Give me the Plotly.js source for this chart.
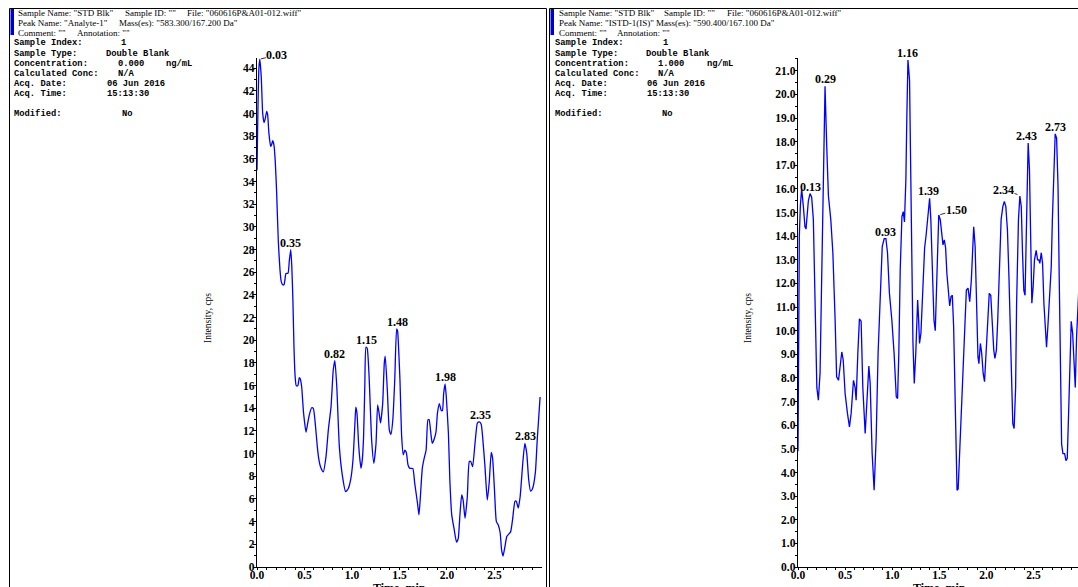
<!DOCTYPE html>
<html><head><meta charset="utf-8">
<script src="https://cdn.plot.ly/plotly-3.0.1.min.js"></script>
<style>html,body{margin:0;padding:0;overflow:hidden;background:#fff}#chart{width:1078px;height:587px}</style>
</head><body><div id="chart"></div>
<script>
// ---- Analyte-1 (left panel) ----
const analyteTime=[0.000,0.010,0.020,0.030,0.045,0.060,0.074,0.088,0.102,0.112,0.125,0.144,0.155,0.165,0.179,0.192,0.207,0.224,0.242,0.255,0.270,0.284,0.295,0.305,0.326,0.340,0.355,0.366,0.378,0.389,0.400,0.413,0.430,0.445,0.455,0.470,0.490,0.516,0.532,0.550,0.575,0.593,0.615,0.635,0.653,0.670,0.698,0.726,0.751,0.779,0.803,0.820,0.840,0.867,0.900,0.933,0.960,0.986,1.010,1.030,1.040,1.052,1.070,1.084,1.095,1.110,1.122,1.135,1.147,1.160,1.180,1.207,1.230,1.253,1.270,1.285,1.300,1.323,1.340,1.350,1.372,1.393,1.410,1.430,1.450,1.470,1.480,1.495,1.505,1.523,1.540,1.556,1.572,1.590,1.610,1.640,1.660,1.690,1.705,1.720,1.740,1.760,1.780,1.800,1.812,1.830,1.845,1.862,1.884,1.900,1.920,1.940,1.952,1.965,1.980,1.992,2.015,2.030,2.050,2.074,2.100,2.118,2.137,2.155,2.170,2.190,2.214,2.235,2.250,2.270,2.295,2.320,2.340,2.360,2.375,2.400,2.424,2.445,2.466,2.480,2.500,2.520,2.540,2.560,2.575,2.590,2.610,2.630,2.650,2.670,2.690,2.716,2.730,2.750,2.770,2.800,2.820,2.840,2.860,2.880,2.900,2.930,2.950,2.980];
const analyteIntensity=[35.0,40.5,44.0,44.8,43.2,40.0,39.2,39.6,40.2,39.9,38.3,37.1,37.3,37.6,37.2,35.8,33.0,28.8,26.2,25.2,24.9,24.9,25.4,25.9,25.9,27.0,28.0,26.6,23.5,19.5,17.0,16.0,16.0,16.7,16.6,15.9,13.6,11.9,12.6,13.4,14.05,14.0,12.5,10.6,9.4,8.8,8.4,9.7,12.1,14.1,17.4,18.2,15.9,10.6,8.0,6.65,6.9,7.7,9.4,12.5,14.1,13.6,10.8,9.4,8.7,9.6,11.5,16.0,19.4,19.3,16.8,11.2,9.15,10.9,14.3,13.6,12.7,14.4,17.98,18.6,15.6,12.1,11.7,13.0,16.5,21.0,20.8,18.5,16.5,11.5,9.9,10.3,10.1,9.0,8.7,8.7,7.4,5.6,4.6,6.2,8.7,9.6,10.3,13.0,13.0,11.8,10.9,11.2,11.9,13.6,14.4,13.8,13.8,15.3,16.15,15.1,11.8,7.7,4.6,3.4,2.2,2.5,4.7,6.35,5.9,4.3,6.2,9.3,9.3,8.85,10.9,12.7,12.8,12.6,11.5,8.85,5.9,7.5,10.1,9.6,6.8,4.0,3.7,3.0,1.5,0.97,1.8,2.7,2.9,3.1,4.15,5.8,5.8,5.2,6.2,9.4,10.9,10.0,7.7,6.7,6.9,8.3,11.2,15.0];
const analytePeakLabels=["0.03","0.35","0.82","1.15","1.48","1.98","2.35","2.83"];
const analytePeakHeights=[44.8,28.0,18.2,19.4,21.0,16.15,12.8,10.9];

// ---- ISTD-1(IS) (right panel) ----
const istdTime=[0.000,0.007,0.014,0.025,0.039,0.057,0.074,0.085,0.110,0.128,0.145,0.163,0.180,0.200,0.216,0.234,0.250,0.270,0.287,0.305,0.323,0.348,0.370,0.394,0.410,0.430,0.447,0.465,0.480,0.500,0.525,0.546,0.564,0.589,0.606,0.617,0.635,0.652,0.670,0.688,0.713,0.730,0.752,0.766,0.787,0.808,0.830,0.850,0.872,0.894,0.915,0.933,0.950,0.970,0.996,1.020,1.043,1.057,1.070,1.085,1.103,1.117,1.130,1.145,1.155,1.167,1.184,1.198,1.210,1.220,1.234,1.250,1.270,1.280,1.290,1.305,1.326,1.344,1.360,1.376,1.397,1.410,1.430,1.443,1.457,1.475,1.494,1.510,1.528,1.539,1.553,1.567,1.580,1.600,1.610,1.624,1.638,1.652,1.670,1.688,1.700,1.723,1.745,1.766,1.787,1.805,1.823,1.840,1.855,1.865,1.880,1.894,1.910,1.920,1.936,1.950,1.965,1.980,1.996,2.014,2.030,2.046,2.060,2.078,2.090,2.106,2.120,2.138,2.156,2.174,2.190,2.206,2.223,2.240,2.255,2.270,2.280,2.294,2.310,2.320,2.340,2.355,2.370,2.383,2.397,2.410,2.426,2.443,2.457,2.468,2.482,2.496,2.510,2.528,2.543,2.557,2.567,2.582,2.596,2.610,2.628,2.638,2.652,2.670,2.688,2.700,2.716,2.730,2.745,2.760,2.773,2.787,2.798,2.812,2.830,2.844,2.858,2.870,2.886,2.900,2.915,2.930,2.943,2.957,2.980];
const istdIntensity=[4.9,10.0,14.0,15.3,16.0,15.25,14.4,14.3,15.5,15.8,15.65,14.7,11.4,7.6,7.06,8.2,11.9,17.5,20.34,17.8,15.7,14.7,13.3,10.45,8.05,7.9,8.6,9.1,8.76,7.34,6.5,5.93,6.5,7.9,7.6,7.06,9.04,10.5,10.4,7.6,5.65,6.8,8.5,7.77,4.8,3.25,5.5,9.04,11.6,13.56,13.9,13.9,13.3,11.6,10.45,9.04,7.2,7.13,9.04,12.57,14.83,15.04,14.6,16.4,19.0,21.45,20.6,17.1,12.6,9.5,7.77,9.04,11.3,10.5,9.46,9.9,11.86,13.5,14.05,14.7,15.6,14.7,12.1,10.45,10.0,12.57,14.9,14.7,13.84,13.63,13.84,13.5,12.43,11.44,11.05,11.44,11.5,10.17,6.92,3.25,3.3,5.37,7.34,9.46,11.72,11.8,11.23,12.15,13.56,14.4,13.56,11.0,8.9,8.6,9.46,9.04,8.2,7.84,9.04,10.7,11.58,11.5,10.45,9.18,8.83,9.18,10.45,12.85,14.7,15.25,15.47,15.25,14.27,12.15,9.75,7.6,6.07,5.86,7.6,11.1,14.7,15.7,15.25,13.3,11.7,11.5,14.7,17.94,16.8,13.56,11.16,11.86,13.0,13.4,13.0,13.0,12.85,13.3,12.85,11.16,9.9,9.3,10.17,11.3,12.7,14.7,16.95,18.33,18.15,16.1,12.15,8.33,5.2,4.8,4.8,4.5,4.6,6.2,9.04,10.4,9.9,8.33,7.6,9.75,11.7];
const istdPeakLabels=["0.13","0.29","0.93","1.16","1.39","1.50","2.34","2.43","2.73"];
const istdPeakHeights=[15.8,20.34,13.9,21.45,15.6,14.9,15.75,17.94,18.33];

// ---- header texts ----
const analyteHeader=[['Sample Name: "STD Blk"','Sample ID: ""','File: "060616P&A01-012.wiff"'],['Peak Name: "Analyte-1"','Mass(es): "583.300/167.200 Da"'],['Comment: ""','Annotation: ""']];
const istdHeader=[['Sample Name: "STD Blk"','Sample ID: ""','File: "060616P&A01-012.wiff"'],['Peak Name: "ISTD-1(IS)"','Mass(es): "590.400/167.100 Da"'],['Comment: ""','Annotation: ""']];
const infoLabels=["Sample Index:","Sample Type:","Concentration:","Calculated Conc:","Acq. Date:","Acq. Time:","Modified:"];
const analyteInfoValues=["1","Double Blank","0.000","N/A","06 Jun 2016","15:13:30","No"];
const istdInfoValues=["1","Double Blank","1.000","N/A","06 Jun 2016","15:13:30","No"];
const concUnit="ng/mL";
const yTitle="Intensity, cps";
const xTitle="Time, min";

const W=1078,H=587;
const fx=p=>p/W, fy=p=>1-p/H;
const ann=[];
function txt(t,x,y,opt){ann.push(Object.assign({text:t,xref:'paper',yref:'paper',x:fx(x),y:fy(y),xanchor:'left',yanchor:'middle',showarrow:false,borderpad:0,font:{family:'Liberation Serif, Times New Roman, serif',size:9,color:'#000'}},opt||{}));}

// header lines
const hdrY=[12.7,23.3,33.3];
const lHdrX=[[17,124,186],[17,118],[17,76]];
const rHdrX=[[558,663,726],[558,655],[558,616]];
analyteHeader.forEach((row,i)=>row.forEach((t,j)=>txt(t,lHdrX[i][j],hdrY[i])));
istdHeader.forEach((row,i)=>row.forEach((t,j)=>txt(t,rHdrX[i][j],hdrY[i])));
// info block
const infoY=[43.3,54,64.3,74,84.3,94.3,114.3];
const lValX=[120,104.5,117,117,105.5,105.5,121];
const rValX=[662,645,657,657,645.5,645.5,661];
const mono={family:'Liberation Mono, Courier New, monospace',size:8.8,color:'#000',weight:'bold'};
infoLabels.forEach((t,i)=>{txt(t,12.8,infoY[i],{font:mono});txt(t,553.8,infoY[i],{font:mono});});
analyteInfoValues.forEach((t,i)=>txt(t,lValX[i],infoY[i],{font:mono}));
istdInfoValues.forEach((t,i)=>txt(t,rValX[i],infoY[i],{font:mono}));
txt(concUnit,165.2,infoY[2],{font:mono});
txt(concUnit,705.5,infoY[2],{font:mono});
// axis titles
txt(yTitle,208,318,{xanchor:'center',textangle:-90,font:{family:'Liberation Serif, serif',size:9.5,color:'#000'}});
txt(yTitle,748,318,{xanchor:'center',textangle:-90,font:{family:'Liberation Serif, serif',size:9.5,color:'#000'}});
txt(xTitle,399,588,{xanchor:'center',font:{family:'Liberation Serif, serif',size:12,color:'#000',weight:'bold'}});
txt(xTitle,939,588,{xanchor:'center',font:{family:'Liberation Serif, serif',size:12,color:'#000',weight:'bold'}});

// peak labels
const pkFont={family:'Liberation Serif, Times New Roman, serif',size:12,color:'#000',weight:'bold'};
const leader={"0.03":[17,-4],"1.50":[17,-5],"2.34":[-15,-5]};
function peaks(labels,heights,xa,ya){
  labels.forEach((l,i)=>{
    const a={text:l,x:parseFloat(l),y:heights[i],xref:xa,yref:ya,font:pkFont,borderpad:0};
    if(leader[l]){Object.assign(a,{showarrow:true,arrowhead:0,arrowwidth:0.8,arrowcolor:'#000',ax:leader[l][0],ay:leader[l][1],standoff:1});}
    else{Object.assign(a,{showarrow:false,yanchor:'bottom',yshift:-1});}
    ann.push(a);
  });
}
peaks(analytePeakLabels,analytePeakHeights,'x','y');
peaks(istdPeakLabels,istdPeakHeights,'x2','y2');

const tickFont={family:'Liberation Serif, Times New Roman, serif',size:11.5,color:'#000',weight:'bold'};
const yDom=[20/H,529/H];
function xax(dom,range,anchor){return {domain:dom,range:range,anchor:anchor,showgrid:false,zeroline:false,showline:true,linecolor:'#000',linewidth:1.3,ticks:'outside',ticklen:2,tickwidth:1,tickcolor:'#000',dtick:0.5,tick0:0,tickformat:'.1f',tickfont:tickFont,ticklabelstandoff:-5,minor:{dtick:0.1,ticklen:2,tickcolor:'#000',ticks:'outside'},fixedrange:true};}
function yax(range,anchor,dt,mdt,fmt){return {domain:yDom,range:range,anchor:anchor,showgrid:false,zeroline:false,showline:true,linecolor:'#000',linewidth:1.3,ticks:'outside',ticklen:3,tickwidth:1,tickcolor:'#000',dtick:dt,tick0:0,tickformat:fmt,tickfont:tickFont,ticklabelstandoff:-4,minor:{dtick:mdt,ticklen:2,tickcolor:'#000',ticks:'outside'},fixedrange:true};}

const shapes=[
 {type:'rect',xref:'paper',yref:'paper',x0:fx(9.5),x1:fx(546.5),y0:fy(600),y1:fy(8.5),line:{color:'#000',width:1}},
 {type:'rect',xref:'paper',yref:'paper',x0:fx(549.5),x1:fx(1090),y0:fy(600),y1:fy(8.5),line:{color:'#000',width:1}},
 {type:'rect',xref:'paper',yref:'paper',x0:fx(10.5),x1:fx(14),y0:fy(35),y1:fy(9),fillcolor:'#0000cc',line:{width:0}},
 {type:'rect',xref:'paper',yref:'paper',x0:fx(550.5),x1:fx(554),y0:fy(35),y1:fy(9),fillcolor:'#0000cc',line:{width:0}}
];

const data=[
 {x:analyteTime,y:analyteIntensity,xaxis:'x',yaxis:'y',type:'scatter',mode:'lines',line:{color:'#0000ff',width:1.3,shape:'spline',smoothing:0.5},hoverinfo:'skip'},
 {x:istdTime,y:istdIntensity,xaxis:'x2',yaxis:'y2',type:'scatter',mode:'lines',line:{color:'#0000ff',width:1.3},hoverinfo:'skip'}
];
const layout={width:W,height:H,margin:{l:0,r:0,t:0,b:0},paper_bgcolor:'#fff',plot_bgcolor:'rgba(0,0,0,0)',showlegend:false,
 xaxis:xax([257/W,541.5/W],[0,2.995],'y'),
 yaxis:yax([0,44.9],'x',2,1,'d'),
 xaxis2:xax([798/W,1],[0,2.972],'y2'),
 yaxis2:yax([0,21.54],'x2',1,0.5,'.1f'),
 annotations:ann,shapes:shapes};
Plotly.newPlot('chart',data,layout,{staticPlot:true,displayModeBar:false});
</script></body></html>
